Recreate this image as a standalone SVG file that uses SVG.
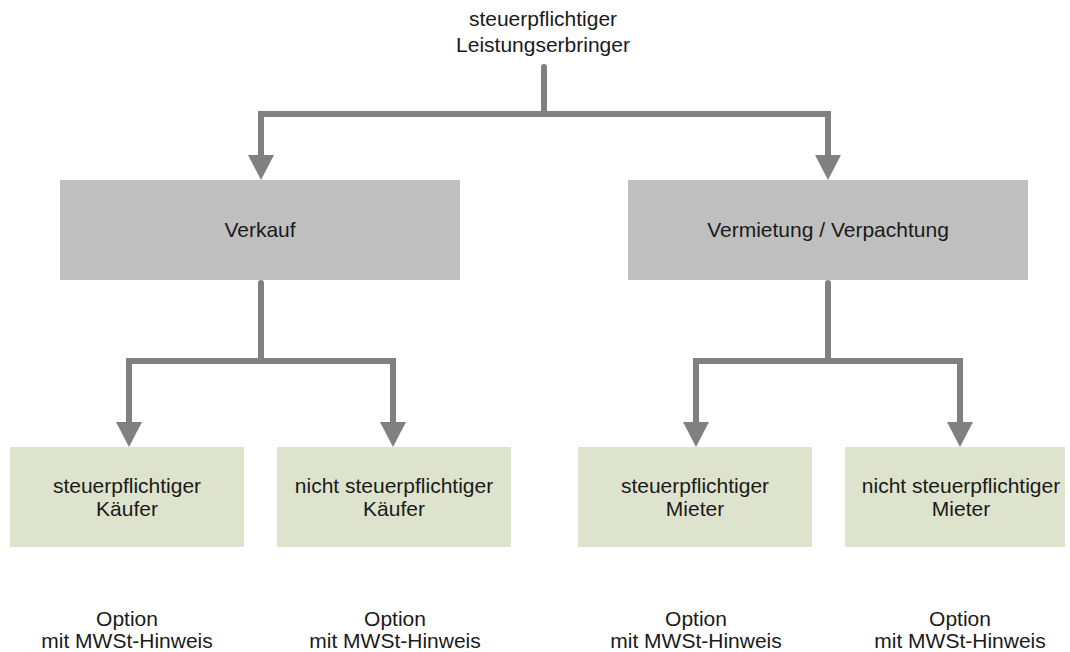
<svg xmlns="http://www.w3.org/2000/svg" width="1070" height="652" viewBox="0 0 1070 652">
<style>
text{font-family:"Liberation Sans",Arial,sans-serif;font-size:21px;fill:#1a1a1a;text-anchor:middle}
.gray{fill:#bfbfbf}
.green{fill:#dee3cd}
.con{fill:none;stroke:#808080;stroke-width:6;stroke-linejoin:miter}
</style>
<defs>
<marker id="ah" markerUnits="userSpaceOnUse" markerWidth="25" markerHeight="26" viewBox="0 0 25 26" refX="2" refY="13" orient="auto">
<path d="M0,0 L25,13 L0,26 Z" fill="#808080"/>
</marker>
</defs>
<rect width="1070" height="652" fill="#ffffff"/>
<g id="connectors">
<path class="con" d="M544,67 V114" stroke-linecap="round"/>
<path class="con" d="M544,114 H261 V157" marker-end="url(#ah)"/>
<path class="con" d="M544,114 H828 V157" marker-end="url(#ah)"/>
<path class="con" d="M261,283 V361" stroke-linecap="round"/>
<path class="con" d="M261,361 H129 V424" marker-end="url(#ah)"/>
<path class="con" d="M261,361 H393 V424" marker-end="url(#ah)"/>
<path class="con" d="M828,283 V361" stroke-linecap="round"/>
<path class="con" d="M828,361 H696 V424" marker-end="url(#ah)"/>
<path class="con" d="M828,361 H960 V424" marker-end="url(#ah)"/>
</g>
<g id="root">
<text x="543" y="26">steuerpflichtiger</text>
<text x="543" y="52">Leistungserbringer</text>
</g>
<g id="verkauf">
<rect class="gray" x="60" y="180" width="400" height="100"/>
<text x="260" y="237">Verkauf</text>
</g>
<g id="vermietung">
<rect class="gray" x="628" y="180" width="400" height="100"/>
<text x="828" y="237">Vermietung / Verpachtung</text>
</g>
<g id="stpfl-kaeufer">
<rect class="green" x="10" y="447" width="234" height="100"/>
<text x="127" y="493">steuerpflichtiger</text>
<text x="127" y="516">Käufer</text>
</g>
<g id="nicht-stpfl-kaeufer">
<rect class="green" x="277" y="447" width="234" height="100"/>
<text x="394" y="493">nicht steuerpflichtiger</text>
<text x="394" y="516">Käufer</text>
</g>
<g id="stpfl-mieter">
<rect class="green" x="578" y="447" width="234" height="100"/>
<text x="695" y="493">steuerpflichtiger</text>
<text x="695" y="516">Mieter</text>
</g>
<g id="nicht-stpfl-mieter">
<rect class="green" x="845" y="447" width="220" height="100"/>
<text x="961" y="493">nicht steuerpflichtiger</text>
<text x="961" y="516">Mieter</text>
</g>
<g id="option1">
<text x="127" y="626">Option</text>
<text x="127" y="648">mit MWSt-Hinweis</text>
</g>
<g id="option2">
<text x="395" y="626">Option</text>
<text x="395" y="648">mit MWSt-Hinweis</text>
</g>
<g id="option3">
<text x="696" y="626">Option</text>
<text x="696" y="648">mit MWSt-Hinweis</text>
</g>
<g id="option4">
<text x="960" y="626">Option</text>
<text x="960" y="648">mit MWSt-Hinweis</text>
</g>
</svg>
